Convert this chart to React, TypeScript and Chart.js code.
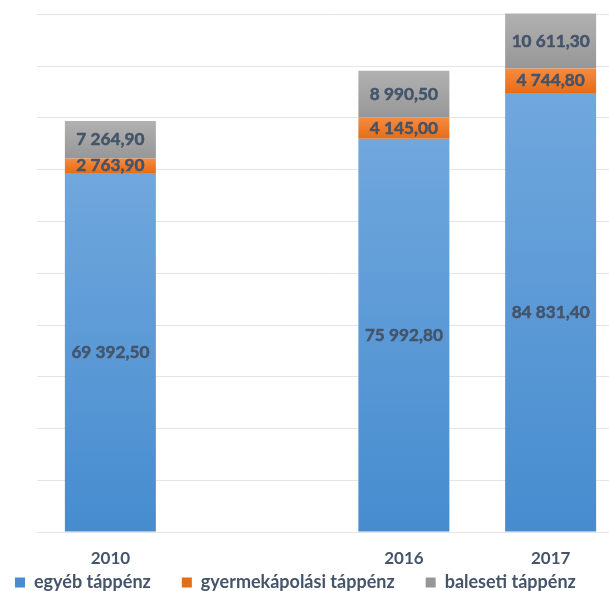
import React, { useEffect, useRef } from "react";
import { Chart, registerables } from "chart.js";

Chart.register(...registerables);

// ---- data ----
const categories = ["2010", "", "2016", "2017"];
const egyebTappenz = [69392.5, null, 75992.8, 84831.4];
const gyermekapolasiTappenz = [2763.9, null, 4145.0, 4744.8];
const balesetiTappenz = [7264.9, null, 8990.5, 10611.3];
const seriesNames = ["egyéb táppénz", "gyermekápolási táppénz", "baleseti táppénz"];
const yMin = 0;
const yMax = 100000;
const yStep = 10000;

// ---- style ----
const TEXT = "#44546a";
const GRID = "#e4e5ec";
const FONT = "Lato, 'Liberation Sans', Arial, sans-serif";

function fmt(v: number): string {
  const [i, d] = v.toFixed(2).split(".");
  return i.replace(/\B(?=(\d{3})+(?!\d))/g, " ") + "," + d;
}

const makeBg = (top: string, bottom: string, solid: string) => (ctx: any) => {
  const chart = ctx.chart;
  if (ctx.type !== "data" || !chart.chartArea) return solid;
  const yScale = chart.scales.y;
  const i = ctx.datasetIndex;
  const j = ctx.dataIndex;
  let start = 0;
  for (let k = 0; k < i; k++) start += (chart.data.datasets[k].data[j] as number) ?? 0;
  const v = (chart.data.datasets[i].data[j] as number) ?? 0;
  const y0 = yScale.getPixelForValue(start);
  const y1 = yScale.getPixelForValue(start + v);
  if (!isFinite(y0) || !isFinite(y1) || y0 === y1) return solid;
  const g = chart.ctx.createLinearGradient(0, y1, 0, y0);
  g.addColorStop(0, top);
  g.addColorStop(1, bottom);
  return g;
};

const dataLabels = {
  id: "dataLabels",
  afterDatasetsDraw(chart: any) {
    const { ctx } = chart;
    ctx.save();
    ctx.font = `bold 17.2px ${FONT}`;
    ctx.fillStyle = TEXT;
    ctx.strokeStyle = TEXT;
    ctx.lineWidth = 0.5;
    ctx.lineJoin = "round";
    ctx.textAlign = "center";
    ctx.textBaseline = "middle";
    chart.data.datasets.forEach((ds: any, i: number) => {
      const meta = chart.getDatasetMeta(i);
      meta.data.forEach((el: any, j: number) => {
        const v = ds.data[j];
        if (v == null) return;
        const { x, y, base } = el.getProps(["x", "y", "base"], true);
        const ty = (y + base) / 2;
        ctx.fillText(fmt(v), x, ty);
        ctx.strokeText(fmt(v), x, ty);
      });
    });
    ctx.restore();
  },
};

// legend: fixed height in the layout, then moved so its row sits just under the x labels
const LEGEND_TOP = 544.5;
const legendPlace = {
  id: "legendPlace",
  beforeInit(chart: any) {
    const orig = chart.legend.fit;
    chart.legend.fit = function () {
      orig.call(this);
      this.height = 30;
    };
  },
  afterLayout(chart: any) {
    const lg = chart.legend;
    lg.top = LEGEND_TOP - 2;
    lg.bottom = chart.height;
    lg.height = lg.bottom - lg.top;
  },
};

export default function App() {
  const ref = useRef<HTMLCanvasElement | null>(null);

  useEffect(() => {
    if (!ref.current) return;
    const chart = new Chart(ref.current, {
      type: "bar",
      data: {
        labels: categories,
        datasets: [
          {
            label: seriesNames[0],
            data: egyebTappenz,
            backgroundColor: makeBg("#70a7dd", "#468ccf", "#5b9bd5"),
            borderWidth: 0,
          },
          {
            label: seriesNames[1],
            data: gyermekapolasiTappenz,
            backgroundColor: makeBg("#f68b42", "#e56d17", "#ed7d31"),
            borderWidth: 0,
          },
          {
            label: seriesNames[2],
            data: balesetiTappenz,
            backgroundColor: makeBg("#b1b1b1", "#979797", "#a5a5a5"),
            borderWidth: 0,
          },
        ] as any,
      },
      options: {
        animation: false,
        responsive: true,
        maintainAspectRatio: false,
        events: [],
        layout: { padding: { top: 14.5, left: 0, right: 0, bottom: 0 } },
        datasets: {
          bar: { categoryPercentage: 1, barPercentage: 0.62, clip: false as any },
        },
        scales: {
          x: {
            stacked: true,
            grid: { display: false },
            border: { display: false },
            ticks: {
              color: TEXT,
              padding: 8,
              font: { family: FONT, size: 17, weight: "bold" },
              maxRotation: 0,
              autoSkip: false,
            },
            afterFit: (s: any) => {
              s.height = 38;
            },
          },
          y: {
            stacked: true,
            min: yMin,
            max: yMax,
            ticks: { display: false, stepSize: yStep },
            grid: { color: GRID, lineWidth: 1, drawTicks: false },
            border: { display: false },
            afterFit: (s: any) => {
              s.width = 53;
            },
          },
        },
        plugins: {
          tooltip: { enabled: false },
          title: { display: false },
          legend: {
            display: true,
            position: "bottom",
            align: "start",
            labels: {
              boxWidth: 10,
              boxHeight: 10,
              padding: 31,
              color: TEXT,
              font: { family: FONT, size: 18, weight: "bold" },
            },
          },
        },
      },
      plugins: [dataLabels, legendPlace],
    });
    return () => chart.destroy();
  }, []);

  return (
    <div
      style={{
        position: "fixed",
        left: 0,
        top: 0,
        width: 609,
        height: 591,
        overflow: "hidden",
        background: "#ffffff",
      }}
    >
      <div style={{ position: "absolute", left: -16, top: 0, width: 640, height: 600 }}>
        <canvas ref={ref} />
      </div>
    </div>
  );
}
